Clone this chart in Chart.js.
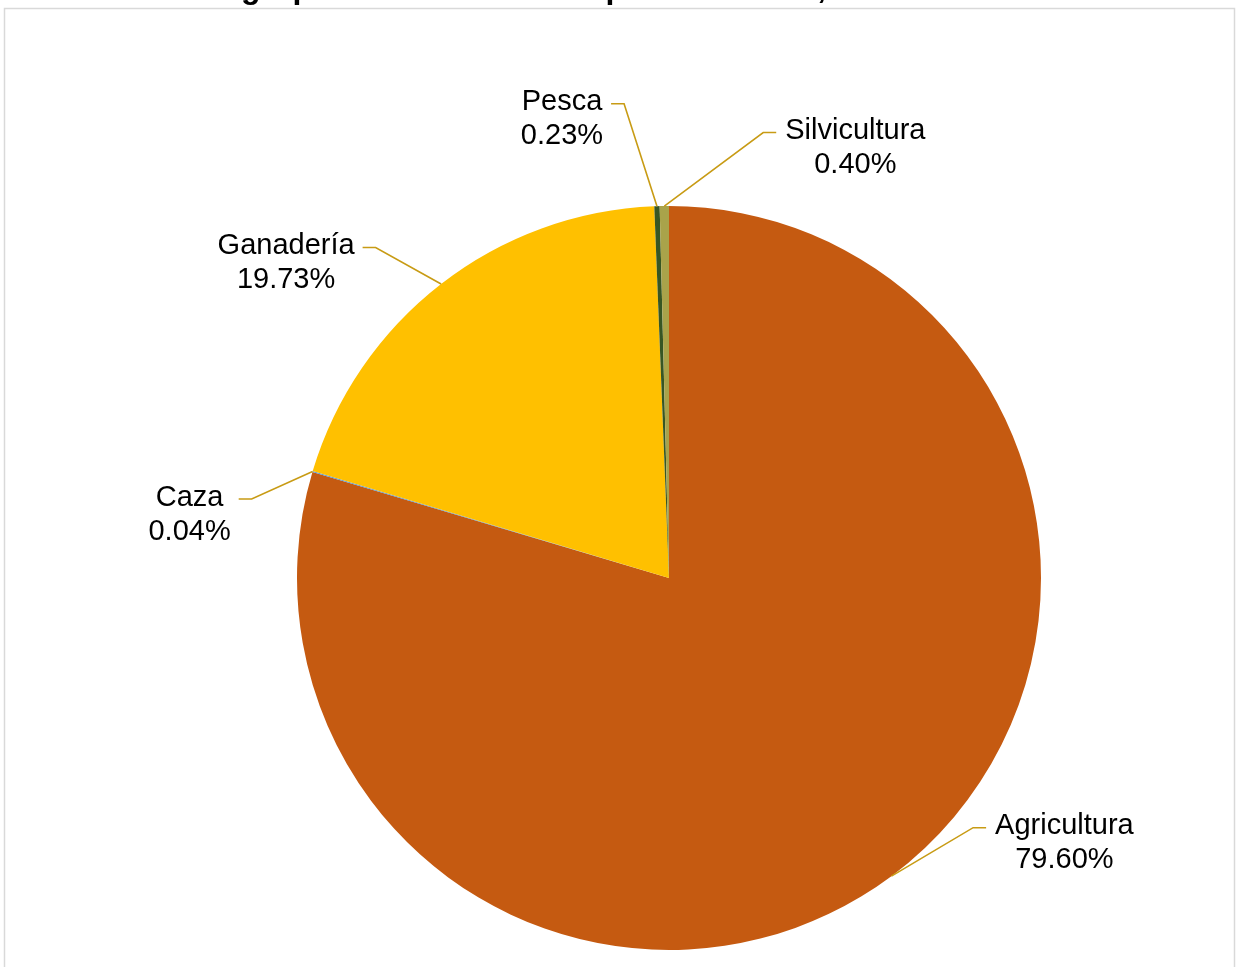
<!DOCTYPE html>
<html>
<head>
<meta charset="utf-8">
<script src="https://cdn.jsdelivr.net/npm/chart.js@4.4.1/dist/chart.umd.min.js"></script>
<style>
  html, body { margin: 0; padding: 0; background: #ffffff; overflow: hidden; }
  #wrap { position: relative; width: 1236px; height: 967px; }
</style>
</head>
<body>
<div id="wrap"><canvas id="c" width="1236" height="967"></canvas></div>
<script>
// ---- Data ----
const titleText = "PIB agropecuario del Estado por subsector, 2010-2019";
const categories = ["Agricultura", "Caza", "Ganadería", "Pesca", "Silvicultura"];
const shares = [79.60, 0.04, 19.73, 0.23, 0.40];
const percentLabels = ["79.60%", "0.04%", "19.73%", "0.23%", "0.40%"];

// ---- Styles / layout ----
const sliceColors = ["#C55A11", "#5B9BD5", "#FFC000", "#375623", "#A9A34A"];
// label offset (center of first line) relative to the slice's outer-edge anchor
const labelOffsets = [
  { dx: 173, dy: -52 },
  { dx: -123, dy: 24 },
  { dx: -155, dy: -40 },
  { dx: -95, dy: -106 },
  { dx: 191, dy: -77 }
];
const labelFont = "29px 'Liberation Sans', Arial, sans-serif";
const leaderColor = "#C89B14";

const framePlugin = {
  id: 'frame',
  beforeDraw(chart) {
    const ctx = chart.ctx;
    ctx.save();
    ctx.fillStyle = '#ffffff';
    ctx.fillRect(0, 0, chart.width, chart.height);
    ctx.strokeStyle = '#D9D9D9';
    ctx.lineWidth = 1.5;
    ctx.strokeRect(4.5, 8.5, 1230, 1000);
    // title (mostly cut off at the top of the picture)
    ctx.font = "bold 32px 'Liberation Sans', Arial, sans-serif";
    ctx.fillStyle = '#000000';
    ctx.textBaseline = 'alphabetic';
    ctx.textAlign = 'left';
    const pre = ctx.measureText("PIB a").width;
    ctx.fillText(titleText, 241 - pre, -2);
    ctx.restore();
  }
};

const labelPlugin = {
  id: 'pieLabels',
  afterDatasetsDraw(chart) {
    const ctx = chart.ctx;
    const meta = chart.getDatasetMeta(0);
    ctx.save();
    ctx.font = labelFont;
    meta.data.forEach((arc, i) => {
      const p = arc.getProps(['x', 'y', 'startAngle', 'endAngle', 'outerRadius'], true);
      const mid = (p.startAngle + p.endAngle) / 2;
      const ax = p.x + Math.cos(mid) * p.outerRadius;
      const ay = p.y + Math.sin(mid) * p.outerRadius;
      const off = labelOffsets[i];
      const lx = ax + off.dx;
      const ly = ay + off.dy;
      const l1 = categories[i];
      const l2 = percentLabels[i];
      const halfW = Math.max(ctx.measureText(l1).width, ctx.measureText(l2).width) / 2;
      // leader line
      const hy = ly + 3.5;
      let hx0, hx1;
      if (off.dx < 0) { hx0 = lx + halfW + 8; hx1 = hx0 + 13; }
      else { hx0 = lx - halfW - 9; hx1 = hx0 - 13; }
      ctx.strokeStyle = leaderColor;
      ctx.lineWidth = 1.6;
      ctx.beginPath();
      ctx.moveTo(hx0, hy);
      ctx.lineTo(hx1, hy);
      ctx.lineTo(ax, ay);
      ctx.stroke();
      // text
      ctx.fillStyle = '#000000';
      ctx.textAlign = 'center';
      ctx.textBaseline = 'alphabetic';
      ctx.fillText(l1, lx, ly + 10);
      ctx.fillText(l2, lx, ly + 44);
    });
    ctx.restore();
  }
};

new Chart(document.getElementById('c'), {
  type: 'pie',
  data: {
    labels: categories,
    datasets: [{
      data: shares,
      backgroundColor: sliceColors,
      borderWidth: 0,
      hoverOffset: 0
    }]
  },
  options: {
    responsive: false,
    animation: false,
    layout: { padding: { left: 297, right: 195, top: 206, bottom: 17 } },
    plugins: {
      legend: { display: false },
      tooltip: { enabled: false },
      title: { display: false }
    }
  },
  plugins: [framePlugin, labelPlugin]
});
</script>
</body>
</html>
